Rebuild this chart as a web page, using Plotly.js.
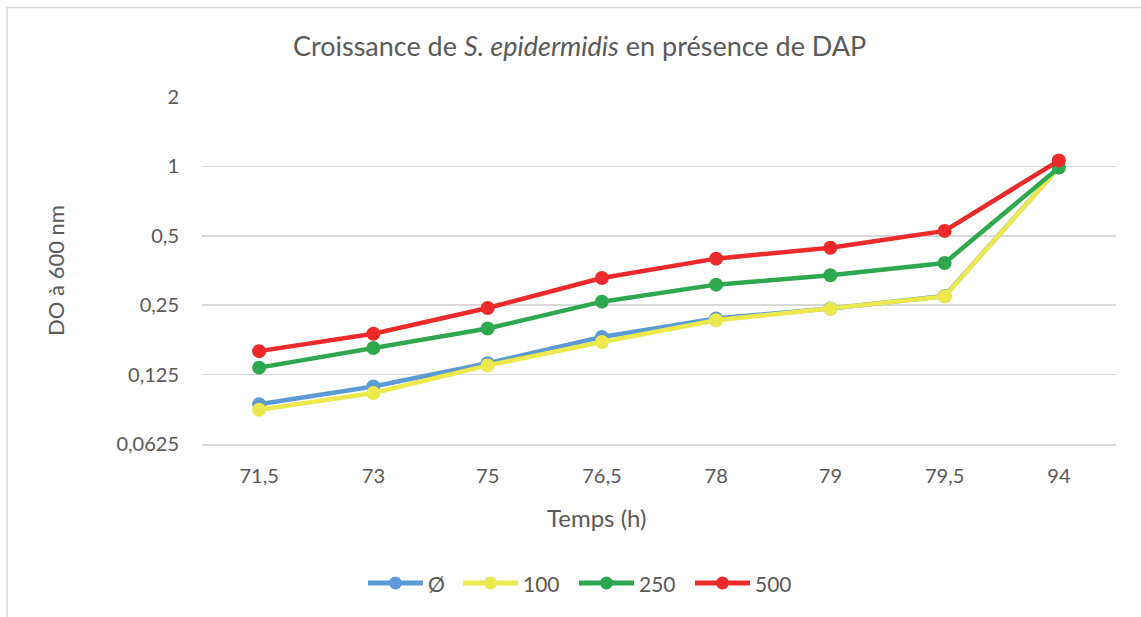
<!DOCTYPE html>
<html>
<head>
<meta charset="utf-8">
<script src="https://cdn.plot.ly/plotly-3.0.1.min.js"></script>
<style>
  html, body { margin: 0; padding: 0; background: #ffffff; }
  #chart { width: 1141px; height: 617px; }
</style>
</head>
<body>
<div id="chart"></div>
<script>
// Sampling times (h)
const temps = ["71,5", "73", "75", "76,5", "78", "79", "79,5", "94"];

// Optical density at 600 nm for each DAP concentration
const doTemoin = [0.093, 0.111, 0.140, 0.182, 0.219, 0.242, 0.274, 0.99];
const do100    = [0.088, 0.104, 0.137, 0.173, 0.215, 0.241, 0.273, 0.99];
const do250    = [0.134, 0.163, 0.198, 0.259, 0.307, 0.337, 0.381, 0.988];
const do500    = [0.158, 0.188, 0.243, 0.328, 0.398, 0.444, 0.525, 1.06];

const seriesNames = ["Ø", "100", "250", "500"];

// Log2 axis ticks
const yTicks = [0.0625, 0.125, 0.25, 0.5, 1, 2];
const yTickText = ["0,0625", "0,125", "0,25", "0,5", "1", "2"];

const colors = ["#5b9bd5", "#ede84b", "#2ea84f", "#ec2a2a"];
const values = [doTemoin, do100, do250, do500];

const textColor = "#595959";
const font = "Lato, 'Open Sans', sans-serif";

// Plot area geometry (pixels)
const W = 1141, H = 617;
const M = { l: 202, r: 25, t: 97, b: 173 };
const plotW = W - M.l - M.r;
const plotH = H - M.t - M.b;
const px = x => (x - M.l) / plotW;          // page x -> paper x
const py = y => (H - M.b - y) / plotH;      // page y -> paper y

const traces = values.map((v, i) => ({
  x: temps,
  y: v,
  name: seriesNames[i],
  type: "scatter",
  mode: "lines+markers",
  line: { color: colors[i], width: 4.5 },
  marker: { color: colors[i], size: 14 }
}));

// Legend drawn below the chart: a line sample with a dot, then the label
const legendY = 583;
const legendStarts = [368, 463, 579, 695];
const legendLine = 55;
const shapes = [{
  type: "rect",
  xref: "paper", yref: "paper",
  x0: px(7), x1: px(1160),
  y0: py(640), y1: py(7.5),
  line: { color: "#d9d9d9", width: 1.5 },
  fillcolor: "rgba(0,0,0,0)",
  layer: "below"
}];
const annotations = [{
  text: "Temps (h)",
  xref: "paper", yref: "paper",
  x: px(596), y: py(517),
  xanchor: "center", yanchor: "middle",
  showarrow: false,
  font: { family: font, size: 24, color: textColor }
}];
seriesNames.forEach((name, i) => {
  const x0 = legendStarts[i];
  shapes.push({
    type: "line", xref: "paper", yref: "paper",
    x0: px(x0), x1: px(x0 + legendLine), y0: py(legendY), y1: py(legendY),
    line: { color: colors[i], width: 5 }
  });
  const cx = x0 + legendLine / 2, r = 6.5;
  shapes.push({
    type: "circle", xref: "paper", yref: "paper",
    x0: px(cx - r), x1: px(cx + r), y0: py(legendY + r), y1: py(legendY - r),
    line: { width: 0 }, fillcolor: colors[i]
  });
  annotations.push({
    text: name,
    xref: "paper", yref: "paper",
    x: px(x0 + legendLine + 3), y: py(legendY),
    xanchor: "left", yanchor: "middle",
    showarrow: false,
    font: { family: font, size: 21, color: textColor }
  });
});

const layout = {
  width: W,
  height: H,
  paper_bgcolor: "#ffffff",
  plot_bgcolor: "#ffffff",
  margin: M,
  font: { family: font, color: textColor, size: 20 },
  title: {
    text: "Croissance de <i>S. epidermidis</i> en présence de DAP",
    font: { family: font, size: 27, color: textColor },
    x: 0.508, xref: "container", xanchor: "center",
    y: 1 - 47 / H, yref: "container", yanchor: "middle"
  },
  xaxis: {
    type: "category",
    range: [-0.5, 7.5],
    showgrid: false,
    showline: true,
    linecolor: "#d9d9d9",
    linewidth: 1.5,
    ticks: "",
    ticklabelstandoff: 13,
    tickfont: { size: 20, color: textColor },
    zeroline: false
  },
  yaxis: {
    type: "log",
    range: [Math.log10(0.0625), Math.log10(2)],
    tickvals: yTicks,
    ticktext: yTickText,
    showgrid: true,
    gridcolor: "#d9d9d9",
    gridwidth: 1.5,
    showline: false,
    ticks: "",
    ticklabelstandoff: 22,
    tickfont: { size: 20, color: textColor },
    title: { text: "DO à 600 nm", font: { size: 22, color: textColor }, standoff: 45 },
    zeroline: false
  },
  showlegend: false,
  shapes: shapes,
  annotations: annotations
};

Plotly.newPlot("chart", traces, layout, { displayModeBar: false, staticPlot: true });
</script>
</body>
</html>
